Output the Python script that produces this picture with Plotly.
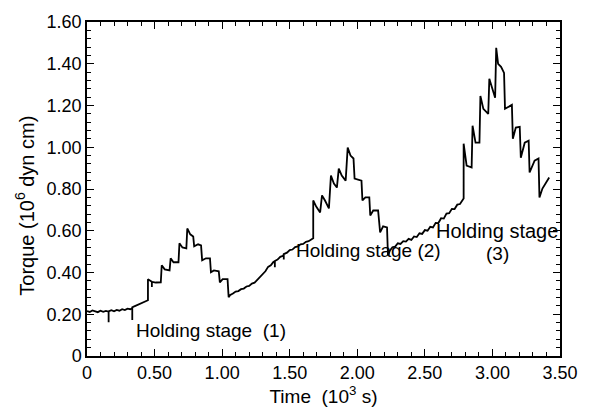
import plotly.graph_objects as go

# Torque record during stepwise straining, three holding stages (time in 10^3 s, torque in 10^6 dyn cm)

# initial plateau and stage-1 staircase
t_stage1 = [0.00, 0.02, 0.04, 0.06, 0.08, 0.10, 0.12, 0.14, 0.16, 0.16, 0.16, 0.18, 0.20, 0.22,
            0.24, 0.26, 0.28, 0.30, 0.32, 0.335, 0.335, 0.335, 0.35, 0.37, 0.39, 0.41, 0.43, 0.451,
            0.451, 0.47, 0.48, 0.48, 0.48, 0.51, 0.546,
            0.553, 0.575, 0.611,
            0.619, 0.64, 0.677,
            0.684, 0.706, 0.735,
            0.742, 0.764, 0.786,
            0.793, 0.822, 0.844,
            0.852, 0.88, 0.91,
            0.917, 0.939, 0.975,
            0.983, 1.004, 1.04,
            1.048]
q_stage1 = [0.215, 0.211, 0.218, 0.213, 0.210, 0.217, 0.212, 0.216, 0.212, 0.162, 0.214, 0.219, 0.214, 0.221,
            0.217, 0.224, 0.220, 0.227, 0.224, 0.229, 0.172, 0.233, 0.238, 0.243, 0.248, 0.255, 0.260, 0.267,
            0.368, 0.358, 0.356, 0.330, 0.355, 0.352, 0.353,
            0.435, 0.415, 0.410,
            0.468, 0.449, 0.449,
            0.540, 0.520, 0.516,
            0.611, 0.583, 0.573,
            0.525, 0.535, 0.530,
            0.458, 0.468, 0.468,
            0.401, 0.410, 0.406,
            0.353, 0.368, 0.368,
            0.282]

# recovery to stage 2, stage-2 staircase and unloading
t_stage2 = [1.06, 1.08, 1.10, 1.12, 1.14, 1.16, 1.18, 1.20, 1.22, 1.24, 1.26, 1.28, 1.30, 1.32,
            1.34, 1.36, 1.38, 1.39, 1.39, 1.39, 1.41, 1.43, 1.45, 1.456, 1.456, 1.456, 1.48, 1.50,
            1.52, 1.54, 1.56, 1.58, 1.60, 1.62, 1.64, 1.66, 1.674,
            1.674, 1.696, 1.725,
            1.739, 1.761, 1.79,
            1.805, 1.827, 1.849,
            1.863, 1.885, 1.914,
            1.929, 1.95, 1.972,
            1.98, 2.031,
            2.038, 2.06, 2.089,
            2.096, 2.118, 2.154,
            2.169, 2.191, 2.22,
            2.227]
q_stage2 = [0.292, 0.299, 0.309, 0.311, 0.320, 0.323, 0.333, 0.336, 0.347, 0.351, 0.365, 0.375, 0.394, 0.406,
            0.427, 0.434, 0.451, 0.453, 0.425, 0.455, 0.462, 0.475, 0.480, 0.486, 0.462, 0.488, 0.495, 0.507,
            0.510, 0.522, 0.525, 0.535, 0.537, 0.547, 0.550, 0.560, 0.564,
            0.745, 0.716, 0.688,
            0.769, 0.745, 0.707,
            0.864, 0.826, 0.807,
            0.898, 0.864, 0.840,
            0.998, 0.960, 0.946,
            0.850, 0.840,
            0.745, 0.760, 0.760,
            0.673, 0.697, 0.697,
            0.592, 0.621, 0.616,
            0.482]

# recovery to stage 3, stage-3 staircase and unloading
t_stage3 = [2.242, 2.26, 2.28, 2.30, 2.32, 2.34, 2.36, 2.38, 2.40, 2.42, 2.44, 2.46, 2.48, 2.50,
            2.52, 2.54, 2.56, 2.58, 2.60, 2.62, 2.64, 2.66, 2.68, 2.70, 2.72, 2.74, 2.76, 2.787,
            2.787, 2.809, 2.846,
            2.853, 2.875, 2.904,
            2.911, 2.933, 2.969,
            2.977, 3.006, 3.02,
            3.028, 3.042, 3.064, 3.086,
            3.093, 3.13, 3.144,
            3.151, 3.173, 3.202,
            3.21, 3.239, 3.268,
            3.275, 3.312, 3.341,
            3.348, 3.37, 3.42]
q_stage3 = [0.506, 0.521, 0.524, 0.540, 0.537, 0.550, 0.548, 0.561, 0.556, 0.573, 0.570, 0.588, 0.585, 0.603,
            0.600, 0.619, 0.616, 0.638, 0.637, 0.660, 0.658, 0.682, 0.684, 0.705, 0.704, 0.725, 0.728, 0.755,
            1.017, 0.912, 0.903,
            1.103, 1.022, 1.022,
            1.246, 1.184, 1.160,
            1.328, 1.261, 1.237,
            1.476, 1.400, 1.385, 1.356,
            1.184, 1.199, 1.203,
            1.041, 1.094, 1.098,
            0.950, 1.022, 1.031,
            0.879, 0.936, 0.946,
            0.759, 0.802, 0.855]

time_all = t_stage1 + t_stage2 + t_stage3
torque_all = q_stage1 + q_stage2 + q_stage3

x_ticks = [0, 0.5, 1.0, 1.5, 2.0, 2.5, 3.0, 3.5]
x_ticktext = ["0", "0.50", "1.00", "1.50", "2.00", "2.50", "3.00", "3.50"]
y_ticks = [0, 0.2, 0.4, 0.6, 0.8, 1.0, 1.2, 1.4, 1.6]
y_ticktext = ["0", "0.20", "0.40", "0.60", "0.80", "1.00", "1.20", "1.40", "1.60"]

FONT = "Liberation Sans"

fig = go.Figure()
fig.add_trace(go.Scatter(x=time_all, y=torque_all, mode="lines",
                         line=dict(color="black", width=1.8), showlegend=False,
                         hoverinfo="skip"))

axis_common = dict(showline=True, linecolor="black", linewidth=1.5, mirror="ticks",
                   ticks="inside", ticklen=7, tickwidth=1.2, tickcolor="black",
                   showgrid=False, zeroline=False,
                   tickfont=dict(family=FONT, size=18, color="black"))

fig.update_xaxes(range=[0, 3.5], tickvals=x_ticks, ticktext=x_ticktext,
                 minor=dict(dtick=0.1, tick0=0, ticks="inside", ticklen=4, tickwidth=1,
                            tickcolor="black"),
                 title=dict(text="Time\u00a0\u00a0(10<sup>3</sup> s)",
                            font=dict(family=FONT, size=19, color="black"), standoff=4),
                 **axis_common)
fig.update_yaxes(range=[0, 1.6], tickvals=y_ticks, ticktext=y_ticktext,
                 minor=dict(dtick=0.04, tick0=0, ticks="inside", ticklen=4, tickwidth=1,
                            tickcolor="black"),
                 **axis_common)

ann_font = dict(family=FONT, size=19, color="black")
# vertical axis title placed in paper coordinates, left of the tick labels
fig.add_annotation(x=-0.131, y=0.45, xref="paper", yref="paper",
                   xanchor="center", yanchor="middle",
                   text="Torque\u00a0(10<sup>6</sup>\u00a0dyn\u00a0cm)",
                   textangle=-90, showarrow=False, font=dict(family=FONT, size=20, color="black"))
fig.add_annotation(x=0.35, y=0.12, xanchor="left", text="Holding stage\u00a0 (1)",
                   showarrow=False, font=ann_font)
fig.add_annotation(x=1.528, y=0.506, xanchor="left", text="Holding stage (2)",
                   showarrow=False, font=ann_font)
fig.add_annotation(x=2.569, y=0.60, xanchor="left", text="Holding stage",
                   showarrow=False, font=dict(family=FONT, size=20, color="black"))
fig.add_annotation(x=3.035, y=0.49, text="(3)", showarrow=False, font=ann_font)

fig.update_layout(width=590, height=413, margin=dict(l=87, r=22, t=21, b=57),
                  plot_bgcolor="white", paper_bgcolor="white")

fig.write_html("out.html")
